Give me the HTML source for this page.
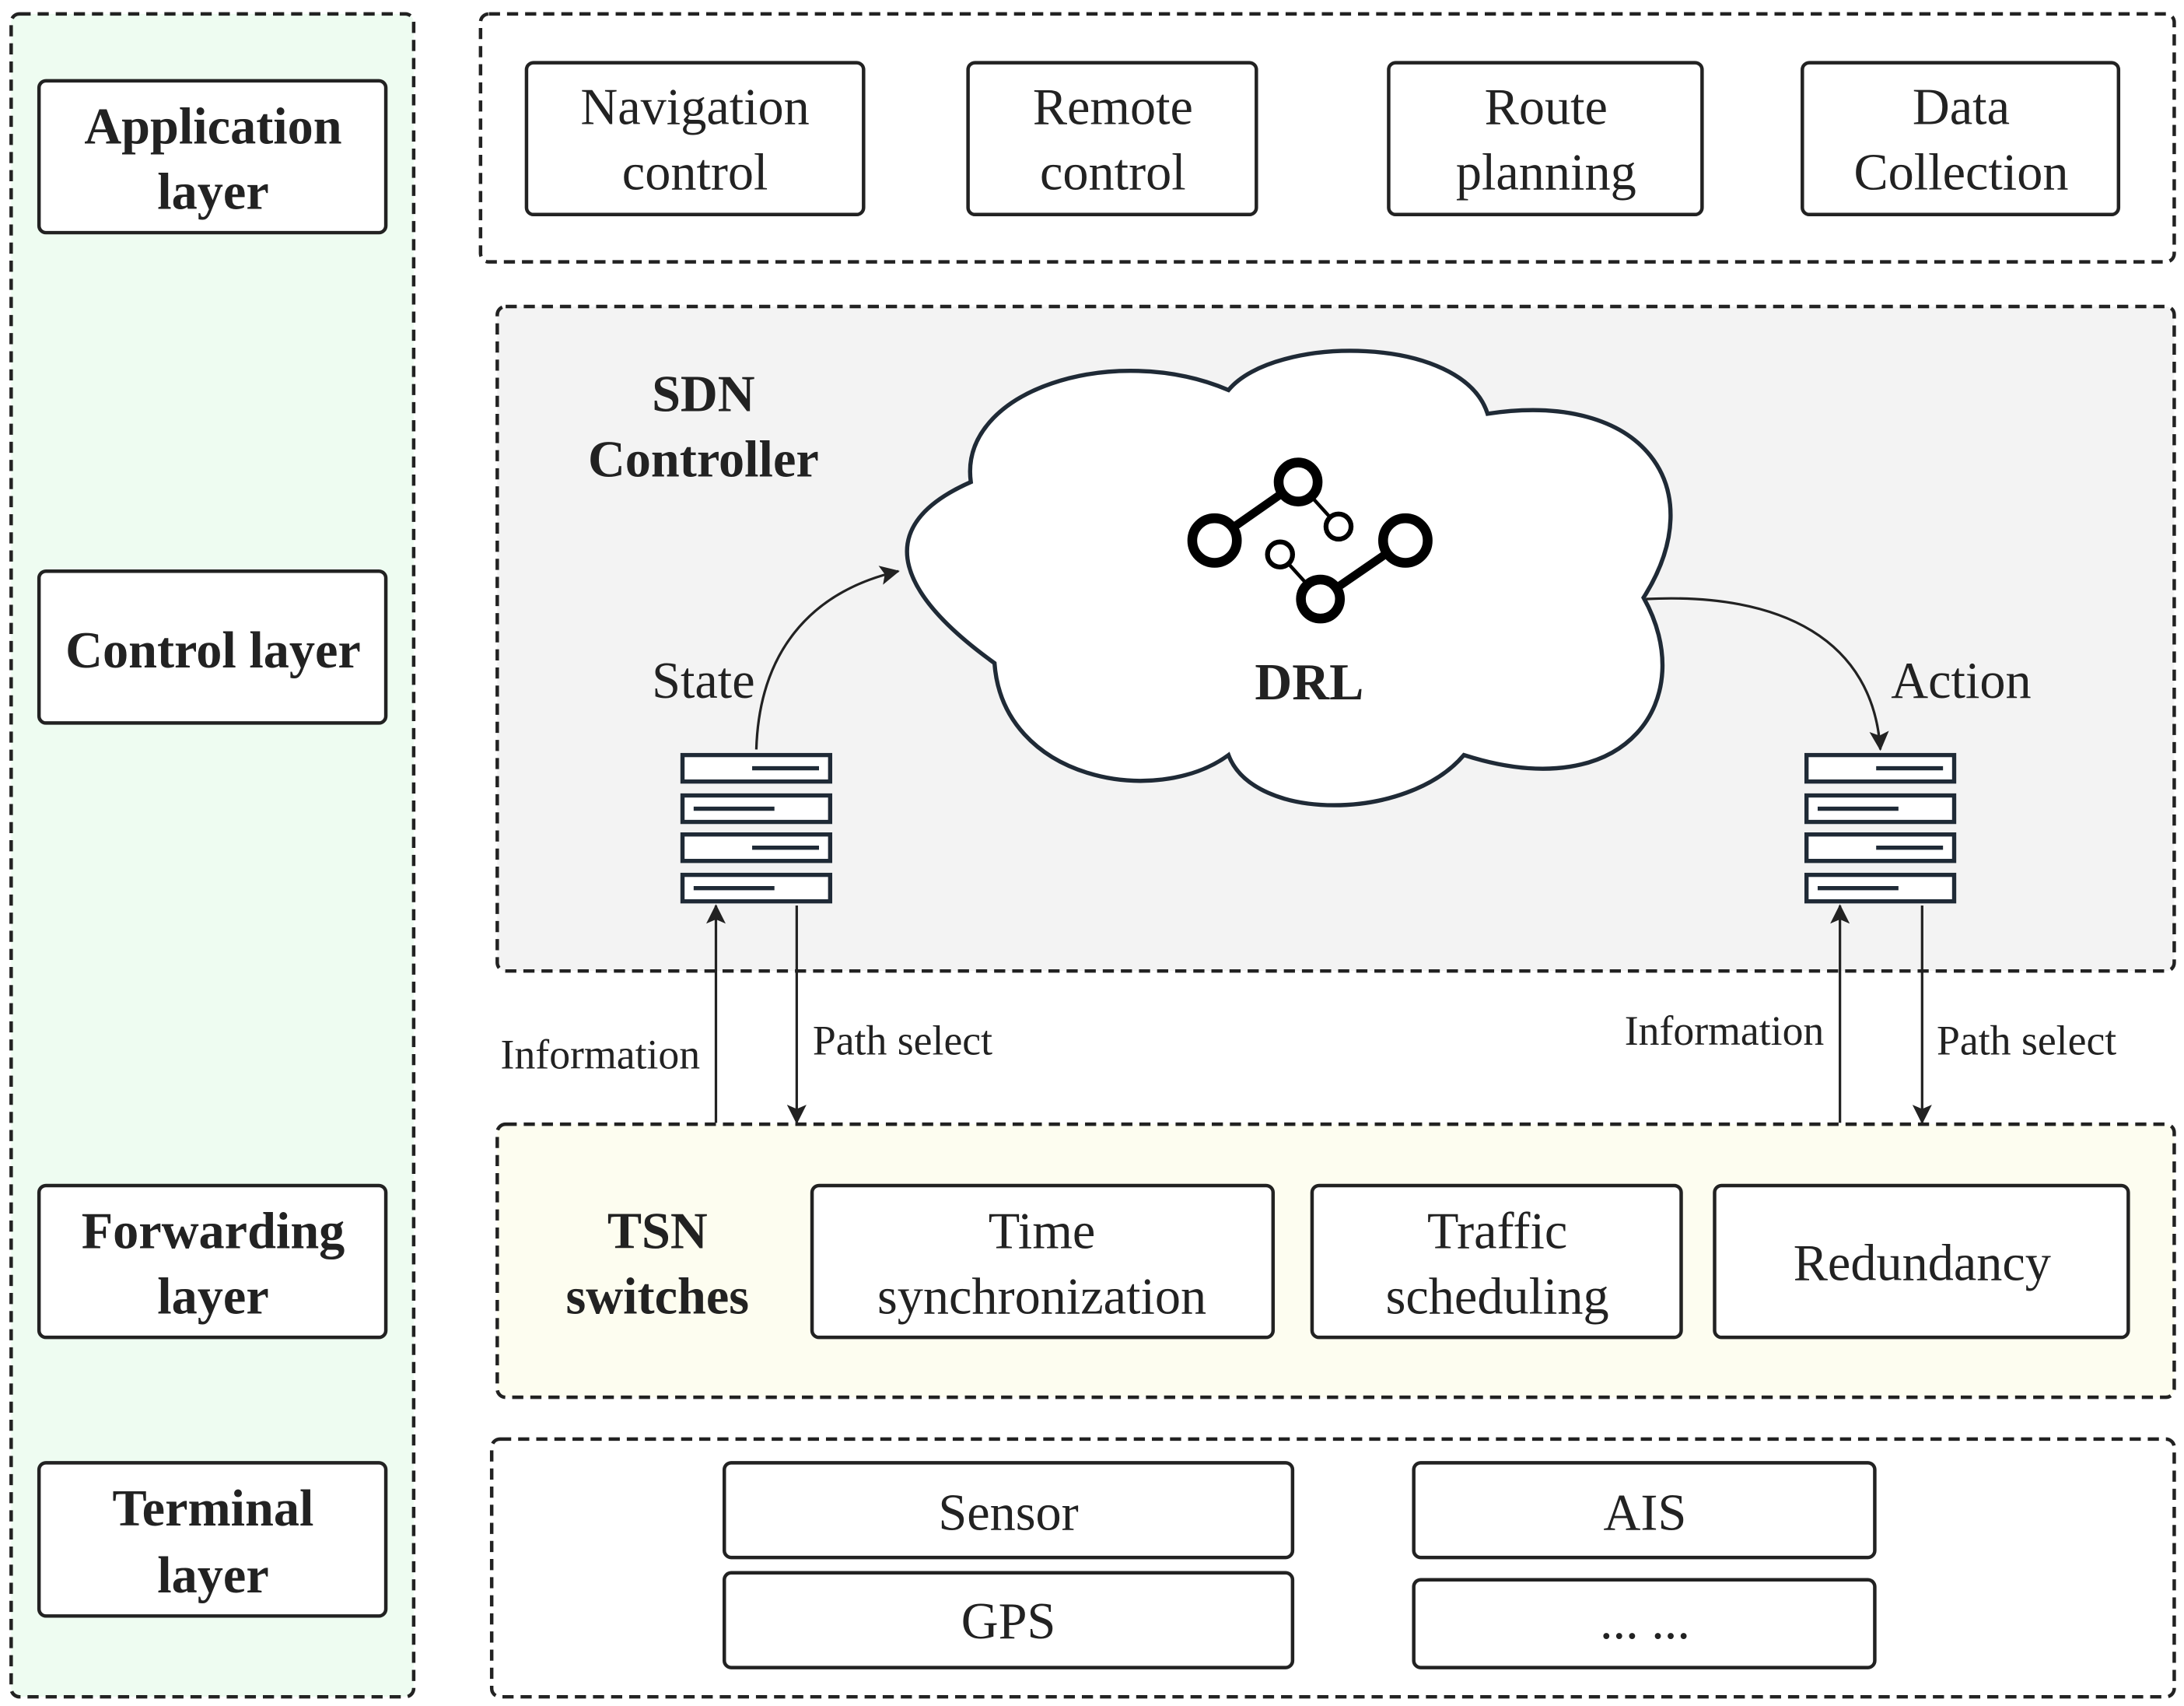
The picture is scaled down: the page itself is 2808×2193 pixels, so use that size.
<!DOCTYPE html>
<html><head><meta charset="utf-8"><style>html,body{margin:0;padding:0;background:#fff}svg{display:block}</style></head><body>
<svg width="2808" height="2193" viewBox="0 0 1568 1224.6" xmlns="http://www.w3.org/2000/svg" font-family="Liberation Serif, serif">
<defs><marker id="ah2" markerWidth="14" markerHeight="14" refX="13" refY="7" orient="auto" markerUnits="userSpaceOnUse"><path d="M0,0 L14,7 L0,14 L3,7 Z" fill="#222"/></marker></defs>
<g stroke="#222" stroke-width="2.5" stroke-dasharray="8,5">
<rect x="8" y="10" width="289" height="1208" rx="6" fill="#eefcf1"/>
<rect x="345" y="10" width="1216" height="178" rx="6" fill="#fff"/>
<rect x="357" y="220" width="1204" height="477" rx="6" fill="#f3f3f3"/>
<rect x="357" y="807" width="1204" height="196" rx="6" fill="#fdfdf0"/>
<rect x="353" y="1033" width="1208" height="185" rx="6" fill="#fff"/>
</g>
<g stroke="#222" stroke-width="2.5" fill="#fff">
<rect x="28" y="58" width="249" height="109" rx="5"/>
<rect x="28" y="410" width="249" height="109" rx="5"/>
<rect x="28" y="851" width="249" height="109" rx="5"/>
<rect x="28" y="1050" width="249" height="110" rx="5"/>
<rect x="378" y="45" width="242" height="109" rx="5"/>
<rect x="695" y="45" width="207" height="109" rx="5"/>
<rect x="997" y="45" width="225" height="109" rx="5"/>
<rect x="1294" y="45" width="227" height="109" rx="5"/>
<rect x="583" y="851" width="331" height="109" rx="5"/>
<rect x="942" y="851" width="265" height="109" rx="5"/>
<rect x="1231" y="851" width="297" height="109" rx="5"/>
<rect x="520" y="1050" width="408" height="68" rx="5"/>
<rect x="520" y="1129" width="408" height="68" rx="5"/>
<rect x="1015" y="1050" width="331" height="68" rx="5"/>
<rect x="1015" y="1134" width="331" height="63" rx="5"/>
</g>
<path d="M697,346 C688,280 800,245 882,280 C915,240 1050,240 1068,297 C1180,280 1230,350 1180,429 C1220,500 1170,580 1051,542 C1010,590 900,590 882,542 C830,580 720,560 714,476 C650,430 620,380 697,346 Z" fill="#fff" stroke="#1f2a36" stroke-width="3"/>
<g font-size="37" fill="#222" text-anchor="middle" font-weight="bold">
<text x="153" y="103">Application</text><text x="153" y="150">layer</text>
<text x="153" y="479">Control layer</text>
<text x="153" y="896">Forwarding</text><text x="153" y="943">layer</text>
<text x="153" y="1095">Terminal</text><text x="153" y="1143">layer</text>
<text x="505" y="295">SDN</text><text x="505" y="342">Controller</text>
<text x="472" y="896">TSN</text><text x="472" y="943">switches</text>
<text x="940" y="502">DRL</text>
</g>
<g font-size="37" fill="#222" text-anchor="middle">
<text x="499" y="89">Navigation</text><text x="799" y="89">Remote</text>
<text x="499" y="136">control</text><text x="799" y="136">control</text>
<text x="1110" y="89">Route</text><text x="1110" y="136">planning</text>
<text x="1408" y="89">Data</text><text x="1408" y="136">Collection</text>
<text x="748" y="896">Time</text><text x="748" y="943">synchronization</text>
<text x="1075" y="896">Traffic</text><text x="1075" y="943">scheduling</text>
<text x="1380" y="919">Redundancy</text>
<text x="724" y="1098">Sensor</text><text x="724" y="1176">GPS</text>
<text x="1181" y="1098">AIS</text><text x="1181" y="1176">... ...</text>
<text x="505" y="501">State</text><text x="1408" y="501">Action</text>
</g>
<g font-size="30" fill="#222" text-anchor="middle">
<text x="431" y="767">Information</text><text x="648" y="757">Path select</text>
<text x="1238" y="750">Information</text><text x="1455" y="757">Path select</text>
</g>
<g stroke="#000" fill="none">
<line x1="872" y1="388" x2="932" y2="346" stroke-width="6"/>
<line x1="948" y1="430" x2="1009" y2="388" stroke-width="6"/>
<line x1="932" y1="346" x2="961" y2="378" stroke-width="2.5"/>
<line x1="919" y1="398" x2="948" y2="430" stroke-width="2.5"/>
<circle cx="872" cy="388" r="16" fill="#fff" stroke-width="7"/>
<circle cx="932" cy="346" r="14" fill="#fff" stroke-width="7"/>
<circle cx="948" cy="430" r="14" fill="#fff" stroke-width="7"/>
<circle cx="1009" cy="388" r="16" fill="#fff" stroke-width="7"/>
<circle cx="961" cy="378" r="9" fill="#fff" stroke-width="3.5"/>
<circle cx="919" cy="398" r="9" fill="#fff" stroke-width="3.5"/>
</g>
<g stroke="#222" stroke-width="1.8" fill="none">
<path d="M543,538 C545,470 580,425 645,410" marker-end="url(#ah2)"/>
<path d="M1182,430 C1280,425 1345,460 1350,538" marker-end="url(#ah2)"/>
<line x1="514" y1="806" x2="514" y2="650" marker-end="url(#ah2)"/>
<line x1="572" y1="650" x2="572" y2="806" marker-end="url(#ah2)"/>
<line x1="1321" y1="806" x2="1321" y2="650" marker-end="url(#ah2)"/>
<line x1="1380" y1="650" x2="1380" y2="806" marker-end="url(#ah2)"/>
</g>
<g id="srv" stroke="#1f2a36" stroke-width="3" fill="#fff">
<rect x="490" y="542" width="106" height="19"/><rect x="490" y="571" width="106" height="19"/>
<rect x="490" y="599" width="106" height="19"/><rect x="490" y="628" width="106" height="19"/>
<line x1="540" y1="551.5" x2="588" y2="551.5"/><line x1="498" y1="580.5" x2="556" y2="580.5"/>
<line x1="540" y1="608.5" x2="588" y2="608.5"/><line x1="498" y1="637.5" x2="556" y2="637.5"/>
</g>
<use href="#srv" x="807" y="0"/>
</svg>
</body></html>
